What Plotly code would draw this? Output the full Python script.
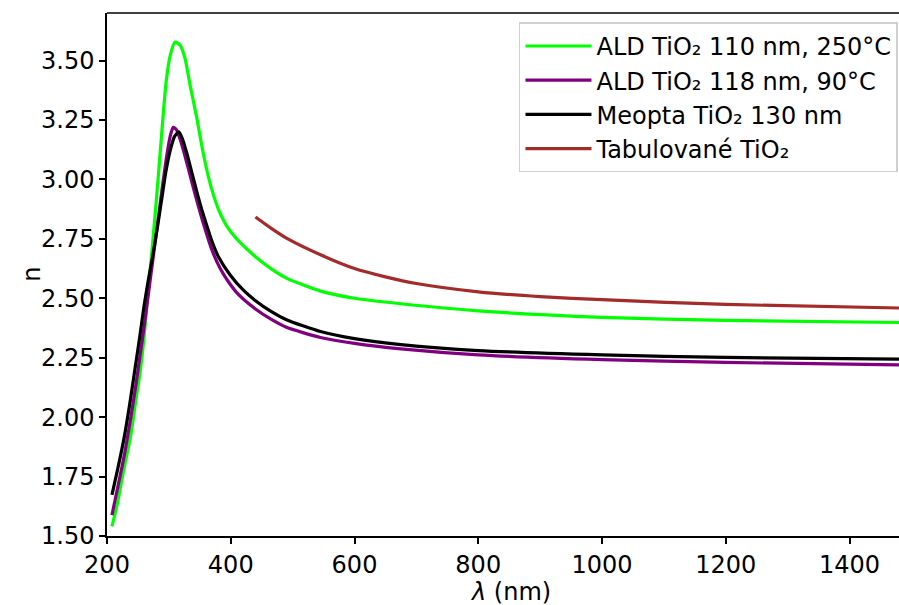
import plotly.graph_objects as go

# ALD TiO2 110 nm, 250 C (green)
green_x = [208, 217, 227, 238, 246, 254, 260, 264, 268, 272, 276, 280, 284, 288, 292, 296, 302, 310,
           318, 326, 334, 345, 354, 364, 372, 380, 390, 400, 415, 440, 465, 490, 545, 600, 675, 800, 1000, 1200, 1480]
green_n = [1.54, 1.64, 1.778, 1.918, 2.059, 2.199, 2.339, 2.46, 2.57, 2.68, 2.80, 2.92, 3.05, 3.18, 3.31, 3.42, 3.52, 3.578,
           3.565, 3.51, 3.40, 3.26, 3.13, 3.01, 2.935, 2.875, 2.82, 2.78, 2.735, 2.675, 2.625, 2.585, 2.53, 2.50, 2.477, 2.447, 2.42, 2.407, 2.398]

# ALD TiO2 118 nm, 90 C (purple)
purple_x = [208, 217, 228, 238, 247, 254, 261, 268, 275, 282, 289, 296, 302, 307, 312, 318, 324, 332, 340,
            354, 370, 383, 394, 410, 440, 465, 490, 545, 600, 675, 800, 1000, 1200, 1480]
purple_n = [1.588, 1.70, 1.84, 1.99, 2.14, 2.27, 2.40, 2.54, 2.68, 2.82, 2.96, 3.09, 3.18, 3.219, 3.21, 3.17, 3.118, 3.04, 2.96,
            2.83, 2.70, 2.625, 2.578, 2.523, 2.455, 2.412, 2.378, 2.335, 2.31, 2.287, 2.262, 2.242, 2.23, 2.22]

# Meopta TiO2 130 nm (black)
black_x = [208, 217, 228, 237, 245, 253, 260, 267, 274, 281, 288, 295, 302, 309, 316, 322, 329, 337, 345, 353,
           362, 371, 380, 400, 420, 440, 465, 490, 545, 600, 675, 800, 1000, 1200, 1480]
black_n = [1.673, 1.778, 1.918, 2.059, 2.199, 2.339, 2.47, 2.58, 2.68, 2.79, 2.91, 3.03, 3.12, 3.18, 3.20, 3.17, 3.11, 3.03, 2.95, 2.875,
           2.80, 2.73, 2.675, 2.595, 2.535, 2.49, 2.445, 2.41, 2.36, 2.33, 2.305, 2.28, 2.262, 2.251, 2.244]

# Tabulovane TiO2 (brown)
brown_x = [440, 465, 490, 545, 600, 650, 700, 800, 900, 1000, 1200, 1480]
brown_n = [2.842, 2.795, 2.753, 2.683, 2.625, 2.59, 2.562, 2.527, 2.507, 2.494, 2.474, 2.459]

series = [
    ("ALD TiO₂ 110 nm, 250°C", green_x, green_n, "#00ff00"),
    ("ALD TiO₂ 118 nm, 90°C", purple_x, purple_n, "#800080"),
    ("Meopta TiO₂ 130 nm", black_x, black_n, "#000000"),
    ("Tabulované TiO₂", brown_x, brown_n, "#a52a2a"),
]

x_ticks = [200, 400, 600, 800, 1000, 1200, 1400]
y_ticks = [1.50, 1.75, 2.00, 2.25, 2.50, 2.75, 3.00, 3.25, 3.50]

fig = go.Figure()
for i, (name, xs, ys, col) in enumerate(series):
    fig.add_trace(go.Scatter(x=xs, y=ys, mode="lines", name=name, legendgroup=f"g{i}",
                             line=dict(color=col, width=3.2, shape="spline", smoothing=0.6)))

FONT = "DejaVu Sans"
FS = 24
fig.update_layout(
    width=899, height=605,
    margin=dict(l=107, r=0, t=13, b=69, autoexpand=False),
    paper_bgcolor="white", plot_bgcolor="white",
    font=dict(family=FONT, size=FS, color="black"),
    showlegend=True,
    legend=dict(x=0.9987, y=0.982, xanchor="right", yanchor="top",
                bgcolor="white", bordercolor="#d0d0d0", borderwidth=1.5,
                font=dict(family=FONT, size=FS, color="black"),
                tracegroupgap=0, itemwidth=66),
    xaxis=dict(range=[200, 1480], tickvals=x_ticks, ticktext=[str(v) for v in x_ticks],
               automargin=False,
               showgrid=False, zeroline=False, showline=True, linecolor="black", linewidth=1.5,
               ticks="outside", ticklen=6, tickwidth=1.5, tickcolor="black",
               tickfont=dict(family=FONT, size=FS, color="black")),
    yaxis=dict(range=[1.5, 3.70], tickvals=y_ticks, ticktext=[f"{v:.2f}" for v in y_ticks],
               automargin=False,
               showgrid=False, zeroline=False, showline=True, linecolor="black", linewidth=1.5,
               ticks="outside", ticklen=6, tickwidth=1.5, tickcolor="black",
               tickfont=dict(family=FONT, size=FS, color="black")),
    shapes=[dict(type="line", xref="paper", yref="paper", x0=0, x1=1, y0=1, y1=1,
                 line=dict(color="black", width=1.5))],
    annotations=[
        dict(text="n", xref="paper", yref="paper", x=-0.116, y=0.5, showarrow=False,
             textangle=-90, font=dict(family=FONT, size=FS, color="black")),
        dict(text="<i>λ</i> (nm)", xref="paper", yref="paper", x=0.509, y=-0.108,
             xanchor="center", yanchor="middle", showarrow=False,
             font=dict(family=FONT, size=FS, color="black")),
    ],
)

fig.write_html("out.html", config={"displayModeBar": False},
               post_script="document.body.style.margin='0';document.body.style.overflow='hidden';")
